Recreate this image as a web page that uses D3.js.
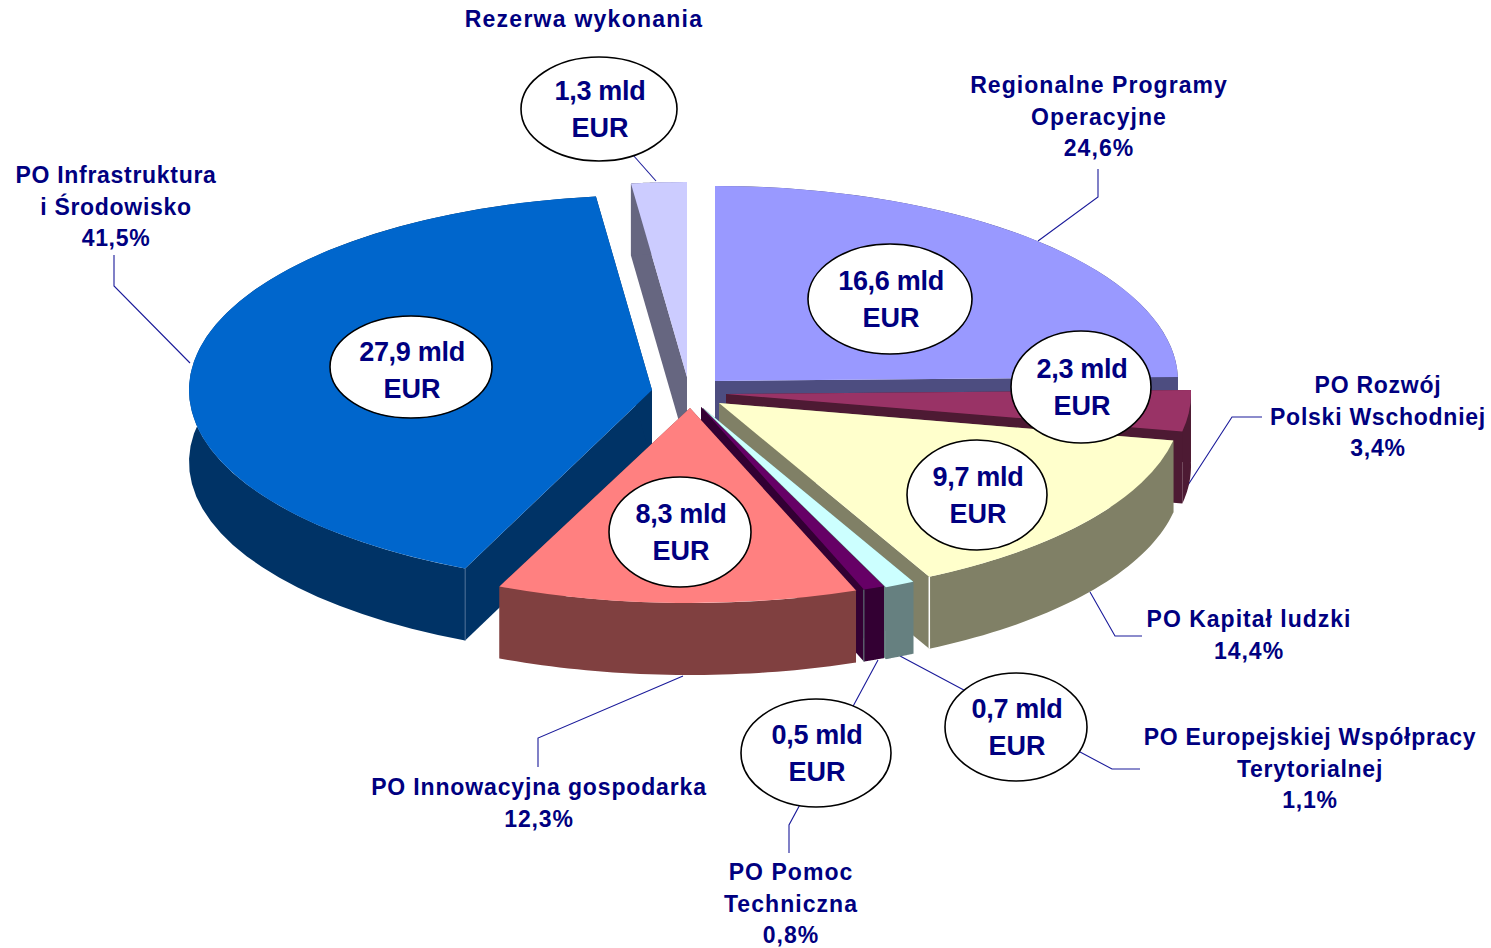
<!DOCTYPE html>
<html>
<head>
<meta charset="utf-8">
<title>Podział środków</title>
<script src="https://cdn.jsdelivr.net/npm/d3@7"></script>
<style>
    html, body { margin: 0; padding: 0; background: #fff; }
    text { font-family: "Liberation Sans", Arial, sans-serif; font-weight: bold; fill: #000080; }
</style>
</head>
<body>
<div id="chart"></div>
<script>
// values, clockwise from 12 o'clock
const categories = [
    ['Regionalne Programy', 'Operacyjne'],
    ['PO Rozwój', 'Polski Wschodniej'],
    ['PO Kapitał ludzki'],
    ['PO Europejskiej Współpracy', 'Terytorialnej'],
    ['PO Pomoc', 'Techniczna'],
    ['PO Innowacyjna gospodarka'],
    ['PO Infrastruktura', 'i Środowisko'],
    ['Rezerwa wykonania']
];
const amounts = [16.6, 2.3, 9.7, 0.7, 0.5, 8.3, 27.9, 1.3];
const amountLabels = ['16,6 mld', '2,3 mld', '9,7 mld', '0,7 mld', '0,5 mld', '8,3 mld', '27,9 mld', '1,3 mld'];
const shares = ['24,6%', '3,4%', '14,4%', '1,1%', '0,8%', '12,3%', '41,5%', ''];

// slice colours (top face), sides are the same colour at half brightness
const colors = ['#9999FF', '#993366', '#FFFFCC', '#CCFFFF', '#660066', '#FF8080', '#0066CC', '#CCCCFF'];
const cornerColors = [null, null, '#fff', null, '#668080', null, '#4a6d94', null];

// layout
const width = 1491, height = 948;
const ry = 195, depth = 72;
const radiusX = [463, 465, 463, 463, 463, 472, 463, 463];
const center = [688, 392];
const explode = [[27, -11], [38, 2], [31, 11], [15, 16], [13, 15], [2, 16], [-36, -2], [-1, -15]];
const drawOrder = [7, 0, 6, 1, 2, 3, 4, 5];
// x, y, rx, ry, ellipse shift against its text
const bubbles = [[890, 299, 82, 55, 0], [1081, 387, 70, 56, 0], [977, 495, 70, 55, 0], [1016, 727, 71, 54, 0],
    [816, 753, 75, 54, 0], [680, 532, 71, 55, 0], [411, 370, 81, 51, -3], [599, 109, 78, 52, 0]];
const labelPos = [[1099, 93], [1378, 393], [1249, 627], [1310, 745], [791, 880], [539, 795], [116, 183], [584, 27]];
const labelSpacing = [1.05, 0.75, 1, 0.75, 1.05, 0.85, 0.7, 1.25];
const lineStep = 31.5;
const leaders = [
    [[1098, 169], [1098, 197], [1038, 241]],
    [[1262, 417], [1232, 417], [1188, 485]],
    [[1090, 592], [1115, 636], [1142, 636]],
    [[900, 656], [1112, 769], [1140, 769]],
    [[878, 660], [789, 825], [789, 853]],
    [[683, 676], [538, 738], [538, 767]],
    [[114, 255], [114, 286], [190, 363]],
    [[633, 155], [656, 181]]
];

const svg = d3.select('#chart').append('svg')
    .attr('width', width)
    .attr('height', height)
    .style('display', 'block');

const slices = d3.pie().sort(null).startAngle(0).endAngle(2 * Math.PI)(amounts);
const line = d3.line();

// leaders sit behind the bubbles
svg.append('g').selectAll('path')
    .data(leaders)
    .enter().append('path')
    .attr('d', d => line(d))
    .attr('fill', 'none')
    .attr('stroke', '#1a1a9a')
    .attr('stroke-width', 1.1);

function darker(c) {
    const rgb = d3.rgb(c);
    return d3.rgb(rgb.r / 2, rgb.g / 2, rgb.b / 2).formatHex();
}

drawOrder.forEach(i => {
    const s = slices[i];
    const rx = radiusX[i];
    const apex = [center[0] + explode[i][0], center[1] + explode[i][1]];
    const rimPoint = (angle, drop) => [apex[0] + rx * Math.sin(angle), apex[1] - ry * Math.cos(angle) + drop];
    const side = darker(colors[i]);
    const g = svg.append('g').attr('class', 'slice');

    // radial walls
    [s.startAngle, s.endAngle].forEach(a => {
        g.append('path')
            .attr('d', line([
                apex,
                rimPoint(a, 0),
                rimPoint(a, depth),
                [apex[0], apex[1] + depth]
            ]) + 'Z')
            .attr('fill', side);
    });

    // outer rim
    const steps = d3.range(0, 41).map(k => s.startAngle + (s.endAngle - s.startAngle) * k / 40);
    const rim = steps.map(a => rimPoint(a, 0))
        .concat(steps.slice().reverse().map(a => rimPoint(a, depth)));
    g.append('path')
        .attr('d', line(rim) + 'Z')
        .attr('fill', side);

    // thin highlight on the outer corner
    const cornerAngle = i === 6 ? s.startAngle : s.endAngle;
    if (cornerColors[i]) {
        const p = rimPoint(cornerAngle, 0);
        g.append('line')
            .attr('x1', p[0]).attr('y1', p[1])
            .attr('x2', p[0]).attr('y2', p[1] + depth)
            .attr('stroke', cornerColors[i])
            .attr('stroke-width', i === 2 ? 1.5 : 1);
    }

    // top face
    g.append('path')
        .attr('d', d3.arc().innerRadius(0).outerRadius(rx)(s))
        .attr('transform', `translate(${apex[0]},${apex[1]}) scale(1,${ry / rx})`)
        .attr('fill', colors[i]);
});

// amount bubbles
const bubble = svg.append('g').selectAll('g')
    .data(amountLabels)
    .enter().append('g')
    .attr('transform', (d, i) => `translate(${bubbles[i][0]},${bubbles[i][1]})`);

bubble.append('ellipse')
    .attr('cy', (d, i) => bubbles[i][4])
    .attr('rx', (d, i) => bubbles[i][2])
    .attr('ry', (d, i) => bubbles[i][3])
    .attr('fill', '#fff')
    .attr('stroke', '#000')
    .attr('stroke-width', 1.6);

bubble.append('text')
    .attr('text-anchor', 'middle')
    .attr('x', 1)
    .attr('y', -9)
    .attr('font-size', 27)
    .attr('letter-spacing', -0.3)
    .text(d => d);

bubble.append('text')
    .attr('text-anchor', 'middle')
    .attr('x', 1)
    .attr('y', 28)
    .attr('font-size', 27)
    .text('EUR');

// outer labels
categories.forEach((lines, i) => {
    const rows = shares[i] ? lines.concat(shares[i]) : lines;
    svg.append('g').selectAll('text')
        .data(rows)
        .enter().append('text')
        .attr('x', labelPos[i][0])
        .attr('y', (d, k) => labelPos[i][1] + k * lineStep)
        .attr('text-anchor', 'middle')
        .attr('font-size', 23)
        .attr('letter-spacing', labelSpacing[i])
        .text(d => d);
});
</script>
</body>
</html>
